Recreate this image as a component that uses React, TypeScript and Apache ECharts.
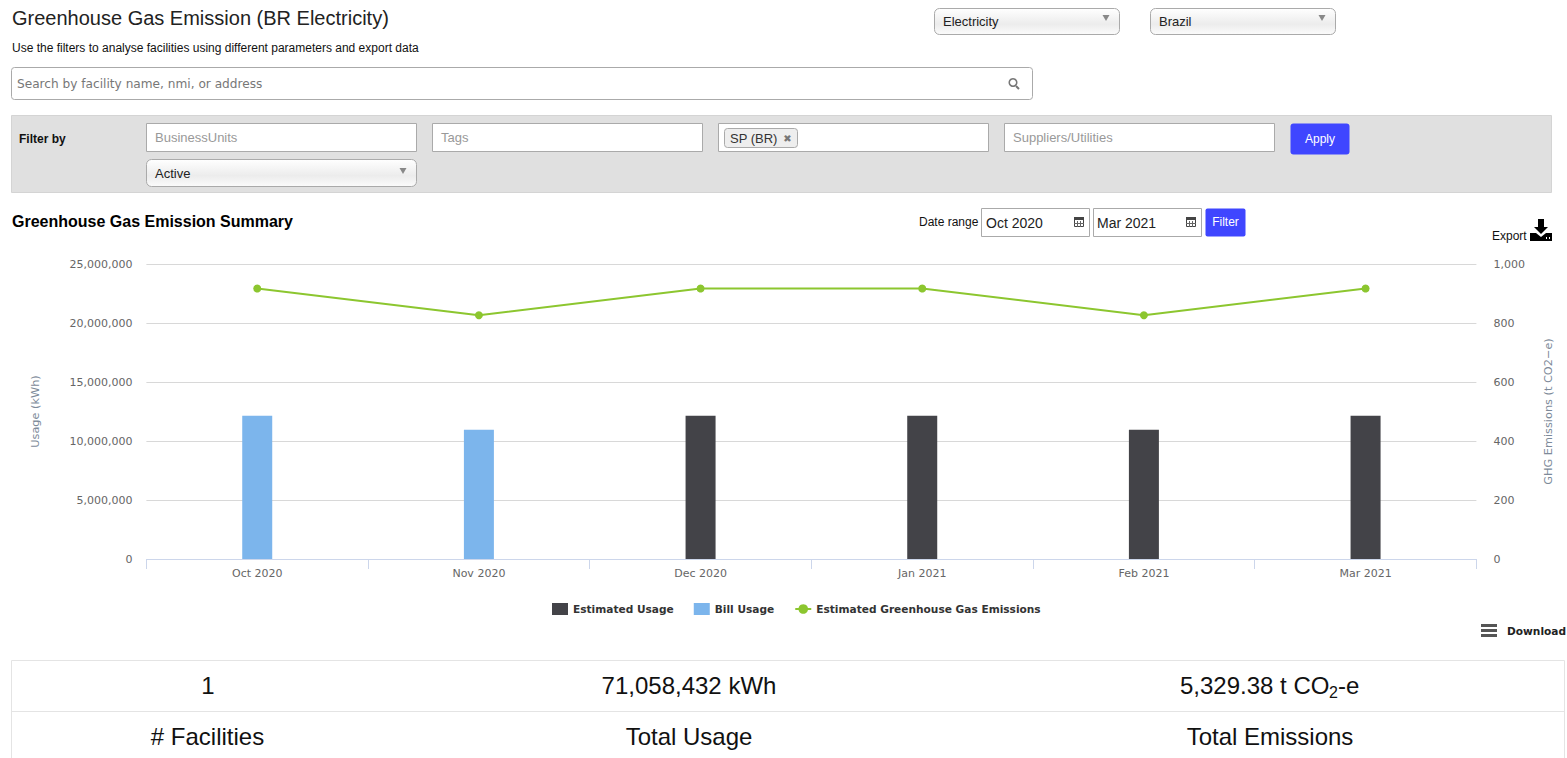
import React, { useEffect, useRef } from "react";
import * as echarts from "echarts";

const categories = ["Oct 2020", "Nov 2020", "Dec 2020", "Jan 2021", "Feb 2021", "Mar 2021"];
const estimatedUsage = [null, null, 12150000, 12150000, 10950000, 12150000];
const billUsage = [12150000, 10950000, null, null, null, null];
const emissions = [917, 826, 917, 917, 826, 917];

const AR = '"Liberation Sans", Arial, sans-serif';
const DJ = '"DejaVu Sans", sans-serif';
const BLUE = "#3f46ff";

const T = (text: string, x: number, y: number, size: number, fill = "#222", opt: any = {}) => ({
  type: "text",
  silent: true,
  style: {
    x, y, text, fill,
    font: `${opt.weight || "normal"} ${size}px ${opt.family || AR}`,
    textAlign: opt.align || "left",
    textVerticalAlign: "middle",
  },
});
const R = (x: number, y: number, w: number, h: number, fill: any, stroke: any = "#aaa", r = 0) => ({
  type: "rect",
  silent: true,
  shape: { x: x + 0.5, y: y + 0.5, width: w - 1, height: h - 1, r },
  style: { fill, stroke: stroke || undefined, lineWidth: stroke ? 1 : 0 },
});
const B = (x: number, y: number, w: number, h: number, fill: string) => ({
  type: "rect", silent: true, shape: { x, y, width: w, height: h }, style: { fill },
});
const selectFill = () =>
  new echarts.graphic.LinearGradient(0, 0, 0, 1, [
    { offset: 0, color: "#ffffff" },
    { offset: 0.6, color: "#ececec" },
    { offset: 1, color: "#fbfbfb" },
  ]);
const Tri = (x: number, y: number) => ({
  type: "polygon", silent: true,
  shape: { points: [[x - 3.5, y - 3], [x + 3.5, y - 3], [x, y + 3]] },
  style: { fill: "#888" },
});
const Sel = (x: number, y: number, w: number, h: number, label: string, triY: number) => [
  R(x, y, w, h, selectFill(), "#aaa", 5),
  T(label, x + 9, y + h / 2, 13, "#222"),
  Tri(x + w - 14, triY),
];
const Input = (x: number, label: string) => [
  R(x, 123, 271, 29, "#fff", "#aaa"),
  T(label, x + 9, 137.5, 13, "#999"),
];
const Cal = (x: number, y: number) => [
  R(x, y, 10, 10, "#fff", "#444"),
  B(x, y, 10, 3, "#444"),
  B(x + 3, y + 4, 1, 6, "#666"),
  B(x + 6, y + 4, 1, 6, "#666"),
  B(x, y + 6, 10, 1, "#666"),
];

const uiElements: any[] = [
  T("Greenhouse Gas Emission (BR Electricity)", 12, 18, 20, "#222"),
  T("Use the filters to analyse facilities using different parameters and export data", 12, 47.5, 12, "#111"),
  ...Sel(934, 8, 186, 27, "Electricity", 18),
  ...Sel(1150, 8, 186, 27, "Brazil", 18),
  R(11, 67, 1022, 33, "#fff", "#aaa", 3),
  T("Search by facility name, nmi, or address", 17, 83.5, 12.15, "#777", { family: DJ }),
  { type: "ring", silent: true, shape: { cx: 1013, cy: 82.5, r: 4.5, r0: 3 }, style: { fill: "#777" } },
  { type: "line", silent: true, shape: { x1: 1016, y1: 86, x2: 1019, y2: 89 }, style: { stroke: "#777", lineWidth: 2 } },

  R(11, 115, 1541, 78, "#e0e0e0", "#d4d4d4"),
  T("Filter by", 19, 138.5, 12, "#111", { weight: "bold" }),
  ...Input(146, "BusinessUnits"),
  ...Input(432, "Tags"),
  R(718, 123, 271, 29, "#fff", "#aaa"),
  R(724, 128, 74, 20, "#eee", "#aaa", 3),
  T("SP (BR)", 730, 138, 13, "#333"),
  T("✖", 787.5, 138, 10, "#777", { align: "center", family: DJ }),
  ...Input(1004, "Suppliers/Utilities"),
  R(1290, 123, 60, 32, BLUE, null, 3),
  T("Apply", 1320, 139, 12, "#fff", { align: "center" }),
  ...Sel(146, 159, 271, 28, "Active", 171),

  T("Greenhouse Gas Emission Summary", 12, 221.5, 16, "#000", { weight: "bold" }),
  T("Date range", 919, 222, 12, "#111"),
  R(981, 208, 109, 29, "#fff", "#aaa"),
  T("Oct 2020", 986, 223, 14, "#222"),
  ...Cal(1074, 217),
  R(1093, 208, 109, 29, "#fff", "#aaa"),
  T("Mar 2021", 1097, 223, 14, "#222"),
  ...Cal(1186, 217),
  R(1205, 208, 41, 29, BLUE, null, 2),
  T("Filter", 1225.5, 222, 12, "#fff", { align: "center" }),

  T("Export", 1492, 236, 12, "#111"),
  B(1538, 219, 6, 9, "#000"),
  { type: "polygon", silent: true, shape: { points: [[1534, 227], [1548, 227], [1541, 234]] }, style: { fill: "#000" } },
  { type: "polygon", silent: true, shape: { points: [[1530, 233], [1536, 233], [1541, 237], [1546, 233], [1552, 233], [1552, 241], [1530, 241]] }, style: { fill: "#000" } },
  B(1546, 237, 1, 2, "#fff"),
  B(1549, 237, 1, 2, "#fff"),

  B(1481, 624, 16, 3, "#555"),
  B(1481, 629, 16, 3, "#555"),
  B(1481, 634, 16, 3, "#555"),
  T("Download", 1507, 631, 10.6, "#222", { weight: "bold", family: DJ }),

  R(11, 660, 1554, 99, "#fff", "#e4e4e4"),
  B(11, 711, 1554, 1, "#e4e4e4"),
  T("1", 208, 685, 24, "#111", { align: "center" }),
  T("71,058,432 kWh", 689, 685, 24, "#111", { align: "center" }),
  T("5,329.38 t CO", 1180, 685, 24, "#111"),
  T("2", 1329, 692, 16, "#111"),
  T("-e", 1338, 685, 24, "#111"),
  T("# Facilities", 207.5, 736, 24, "#111", { align: "center" }),
  T("Total Usage", 689, 736, 24, "#111", { align: "center" }),
  T("Total Emissions", 1270, 736, 24, "#111", { align: "center" }),
];

const labelStyle = { color: "#666666", fontFamily: DJ, fontSize: 11 };
const nameStyle = { color: "#7d8a99", fontFamily: DJ, fontSize: 11.3 };

export default function App() {
  const ref = useRef<HTMLDivElement>(null);
  useEffect(() => {
    const chart = echarts.init(ref.current!, null, { renderer: "svg" });
    chart.setOption({
      animation: false,
      backgroundColor: "#fff",
      graphic: { elements: uiElements },
      grid: { left: 146.4, right: 90.6, top: 264, height: 295, containLabel: false, outerBoundsMode: "none" },
      legend: {
        left: 552,
        top: 603,
        padding: 0,
        itemWidth: 16,
        itemHeight: 12,
        itemGap: 20,
        selectedMode: false,
        textStyle: { color: "#333333", fontFamily: DJ, fontSize: 10.6, fontWeight: "bold" },
        data: [
          { name: "Estimated Usage", icon: "rect" },
          { name: "Bill Usage", icon: "rect" },
          { name: "Estimated Greenhouse Gas Emissions" },
        ],
      },
      xAxis: {
        type: "category",
        data: categories,
        boundaryGap: true,
        axisLine: { lineStyle: { color: "#ccd6eb" } },
        axisTick: { show: true, length: 10, alignWithLabel: false, lineStyle: { color: "#ccd6eb" } },
        axisLabel: { ...labelStyle, margin: 9 },
      },
      yAxis: [
        {
          type: "value",
          min: 0,
          max: 25000000,
          interval: 5000000,
          name: "Usage (kWh)",
          nameLocation: "middle",
          nameRotate: 90,
          nameGap: 105,
          nameTextStyle: nameStyle,
          axisLine: { show: false },
          axisTick: { show: false },
          splitLine: { lineStyle: { color: "#d8d8d8" } },
          axisLabel: { ...labelStyle, margin: 14, formatter: (v: number) => v.toLocaleString("en-US") },
        },
        {
          type: "value",
          min: 0,
          max: 1000,
          interval: 200,
          name: "GHG Emissions (t CO2−e)",
          nameLocation: "middle",
          nameRotate: 90,
          nameGap: 67,
          nameTextStyle: nameStyle,
          axisLine: { show: false },
          axisTick: { show: false },
          splitLine: { show: false },
          axisLabel: { ...labelStyle, margin: 17, formatter: (v: number) => v.toLocaleString("en-US") },
        },
      ],
      series: [
        { name: "Estimated Usage", type: "bar", stack: "usage", barWidth: 30, data: estimatedUsage, itemStyle: { color: "#434348" } },
        { name: "Bill Usage", type: "bar", stack: "usage", barWidth: 30, data: billUsage, itemStyle: { color: "#7cb5ec" } },
        {
          name: "Estimated Greenhouse Gas Emissions",
          type: "line",
          yAxisIndex: 1,
          data: emissions,
          symbol: "circle",
          symbolSize: 8,
          lineStyle: { color: "#8cc62f", width: 2 },
          itemStyle: { color: "#8cc62f" },
        },
      ],
    });
    return () => chart.dispose();
  }, []);
  return <div ref={ref} style={{ position: "absolute", left: 0, top: 0, width: 1567, height: 758, overflow: "hidden" }} />;
}
